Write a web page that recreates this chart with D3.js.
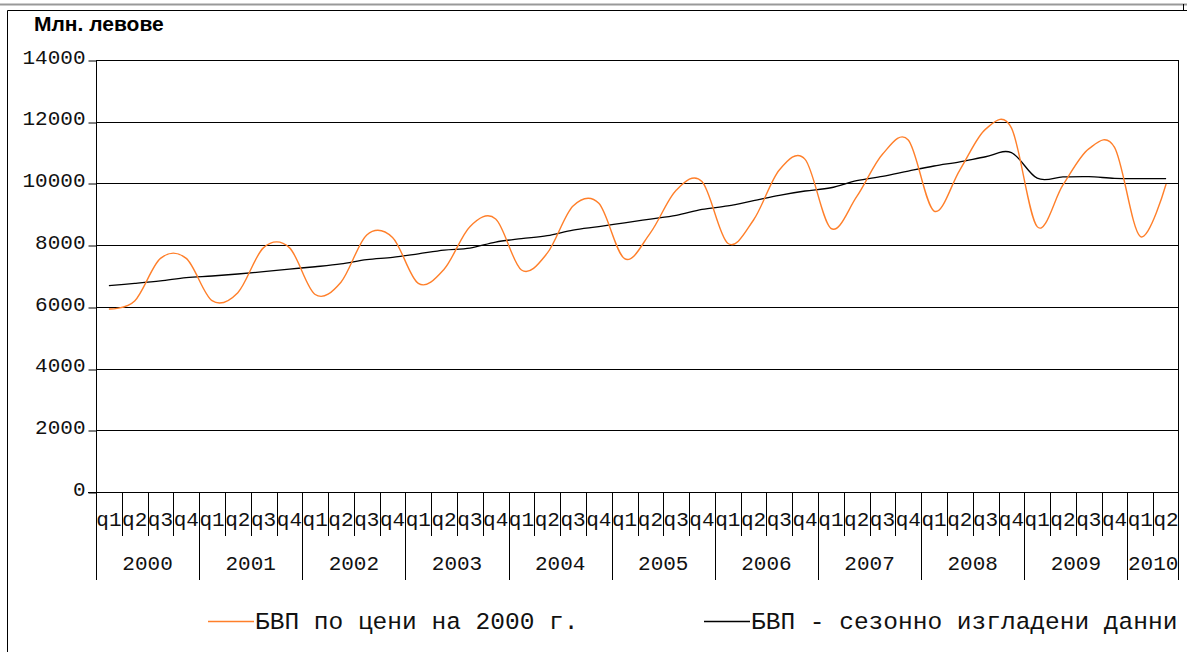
<!DOCTYPE html>
<html>
<head>
<meta charset="utf-8">
<script src="https://cdn.jsdelivr.net/npm/d3@7"></script>
<style>
  body { margin: 0; background: #fff; }
</style>
</head>
<body>
<div id="container"></div>
<script>
// Datos: BVP trimestral 2000 q1 - 2010 q2 (mln. leva)
const years = ['2000', '2001', '2002', '2003', '2004', '2005', '2006', '2007', '2008', '2009', '2010'];
const quarterNames = ['q1', 'q2', 'q3', 'q4'];
const yTicks = [0, 2000, 4000, 6000, 8000, 10000, 12000, 14000];

const gdp = [
  5930, 6190, 7570, 7570,
  6200, 6460, 7920, 7920,
  6400, 6800, 8330, 8250,
  6760, 7220, 8600, 8850,
  7195, 7740, 9270, 9355,
  7560, 8400, 9780, 10060,
  8060, 8815, 10435, 10780,
  8545, 9570, 10945, 11410,
  9105, 10435, 11760, 11800,
  8600, 9950, 11120, 11170,
  8280, 9980
];

const gdpSeasonal = [
  6690, 6760, 6840, 6945,
  7000, 7065, 7140, 7225,
  7300, 7390, 7530, 7605,
  7720, 7840, 7905, 8100,
  8210, 8305, 8490, 8600,
  8725, 8845, 8965, 9160,
  9270, 9440, 9615, 9755,
  9860, 10090, 10230, 10400,
  10565, 10700, 10865, 11000,
  10170, 10210, 10220, 10165,
  10155, 10155
];

const seriesNames = ['БВП по цени на 2000 г.', 'БВП - сезонно изгладени данни'];
const seriesColors = ['#ff7f2a', '#000000'];
const unitLabel = 'Млн. левове';

const MONO = '"Liberation Mono", "Courier New", monospace';

// Recuadro
const WIDTH = 1187;
const HEIGHT = 652;
const MARGIN = { TOP: 60, BOTTOM: 160, LEFT: 96, RIGHT: 8 };

const svg = d3.select('#container')
              .append('svg')
                .attr('width', WIDTH)
                .attr('height', HEIGHT);

// marco exterior
svg.append('line').attr('x1', 0).attr('x2', WIDTH).attr('y1', 4.5).attr('y2', 4.5)
   .attr('stroke', '#999').attr('stroke-width', 2);
svg.append('path')
   .attr('d', `M7.5,${HEIGHT} V10.5 H${WIDTH}`)
   .attr('fill', 'none').attr('stroke', '#000');
svg.append('line').attr('x1', 1183.5).attr('x2', 1183.5).attr('y1', 4).attr('y2', 10)
   .attr('stroke', '#000');

const categories = [];
years.forEach(yr => quarterNames.forEach(q => categories.push({ year: yr, q: q, key: yr + q })));
categories.length = gdp.length;

const x = d3.scaleBand()
            .domain(categories.map(d => d.key))
            .range([MARGIN.LEFT, WIDTH - MARGIN.RIGHT]);

const y = d3.scaleLinear()
            .domain([0, 14000])
            .range([HEIGHT - MARGIN.BOTTOM, MARGIN.TOP]);

const x0 = x.range()[0], x1 = x.range()[1];
const yBase = y(0);

// lineas de grilla
svg.append('g')
   .selectAll('line')
   .data(yTicks)
   .join('line')
     .attr('x1', d => d === 0 ? x0 - 8 : x0)
     .attr('x2', x1)
     .attr('y1', d => Math.round(y(d)) + 0.5)
     .attr('y2', d => Math.round(y(d)) + 0.5)
     .attr('stroke', '#000');

// eje y
const yAxis = svg.append('g')
   .attr('transform', `translate(${x0 + 0.5},0)`)
   .call(d3.axisLeft(y).tickValues(yTicks).tickSize(8).tickPadding(3).tickFormat(d3.format('d')));
yAxis.attr('font-family', null).attr('font-size', null);
yAxis.select('.domain').remove();
yAxis.selectAll('.tick line').attr('stroke', '#000')
     .attr('transform', d => `translate(0,${Math.round(y(d)) + 0.5 - y(d)})`);
yAxis.selectAll('.tick text')
     .style('font-family', MONO)
     .style('font-size', '21px')
     .attr('fill', '#111')
     .attr('dy', '0.15em');

// bordes verticales del area
svg.append('line').attr('x1', x0 + 0.5).attr('x2', x0 + 0.5).attr('y1', y(14000)).attr('y2', yBase + 88)
   .attr('stroke', '#000');
svg.append('line').attr('x1', x1 - 0.5).attr('x2', x1 - 0.5).attr('y1', y(14000)).attr('y2', yBase + 88)
   .attr('stroke', '#000');

// eje x: trimestres y años
const xg = svg.append('g');
xg.selectAll('line.qtick')
  .data(categories.slice(1))
  .join('line')
    .attr('class', 'qtick')
    .attr('x1', d => Math.round(x(d.key)) + 0.5)
    .attr('x2', d => Math.round(x(d.key)) + 0.5)
    .attr('y1', yBase)
    .attr('y2', d => d.q === 'q1' ? yBase + 88 : yBase + 44)
    .attr('stroke', '#000');

xg.selectAll('text.qlabel')
  .data(categories)
  .join('text')
    .attr('class', 'qlabel')
    .attr('x', d => x(d.key) + x.bandwidth() / 2)
    .attr('y', yBase + 34)
    .attr('text-anchor', 'middle')
    .style('font-family', MONO)
    .style('font-size', '21px')
    .attr('fill', '#111')
    .text(d => d.q);

const yearGroups = d3.groups(categories, d => d.year);
xg.selectAll('text.ylabel')
  .data(yearGroups)
  .join('text')
    .attr('class', 'ylabel')
    .attr('x', d => {
      const a = x(d[1][0].key);
      const b = x(d[1][d[1].length - 1].key) + x.bandwidth();
      return (a + b) / 2;
    })
    .attr('y', yBase + 78)
    .attr('text-anchor', 'middle')
    .style('font-family', MONO)
    .style('font-size', '21px')
    .attr('fill', '#111')
    .text(d => d[0]);

// series
const line = d3.line()
               .x((d, i) => x(categories[i].key) + x.bandwidth() / 2)
               .y(d => y(d))
               .curve(d3.curveCardinal.tension(0));

svg.append('path')
   .datum(gdpSeasonal)
   .attr('fill', 'none')
   .attr('stroke', seriesColors[1])
   .attr('stroke-width', 1.3)
   .attr('d', line);

svg.append('path')
   .datum(gdp)
   .attr('fill', 'none')
   .attr('stroke', seriesColors[0])
   .attr('stroke-width', 1.4)
   .attr('d', line);

// titulo de unidades
svg.append('text')
   .attr('x', 34)
   .attr('y', 31)
   .style('font-family', '"Liberation Sans", Arial, sans-serif')
   .style('font-weight', 'bold')
   .style('font-size', '21px')
   .text(unitLabel);

// leyenda
const legendPos = [208, 704];
const legend = svg.append('g')
   .selectAll('g')
   .data(seriesNames)
   .join('g')
     .attr('transform', (d, i) => `translate(${legendPos[i]},621)`);

legend.append('line')
      .attr('x1', 0).attr('x2', 46)
      .attr('y1', 0.5).attr('y2', 0.5)
      .attr('stroke', (d, i) => seriesColors[i])
      .attr('stroke-width', 1.3);

legend.append('text')
      .attr('x', 47)
      .attr('y', 8)
      .style('font-family', MONO)
      .style('font-size', '24.5px')
      .attr('fill', '#111')
      .text(d => d);
</script>
</body>
</html>
